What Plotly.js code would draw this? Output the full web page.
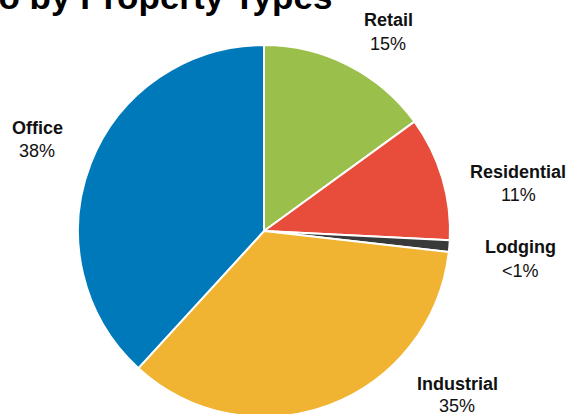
<!DOCTYPE html>
<html><head><meta charset="utf-8">
<script src="https://cdn.plot.ly/plotly-3.0.1.min.js"></script>
<style>html,body{margin:0;padding:0;overflow:hidden;background:#fff;}#chart{width:569px;height:430px;}</style>
</head><body><div id="chart"></div>
<script>
// Data
var categories = ["Retail", "Residential", "Lodging", "Industrial", "Office"];
var shares = [15, 10.8, 1.0, 35, 38.2];
var shareLabels = ["15%", "11%", "<1%", "35%", "38%"];
var colors = ["#9BBF4B", "#E84C3B", "#383A39", "#F0B332", "#0079BB"];
var titleText = "Portfolio by Property Types";

// Label positions (pixels: center x, name y, value y)
var labelPos = [[388, 20, 44], [518, 172, 195], [520, 247, 271], [457, 384, 406], [37, 128, 151]];

var W = 569, H = 430, L = 78, T = 45, S = 372;
function px(x){ return (x - L) / S; }
function py(y){ return (T + S - y) / S; }

var ann = [];
for (var i = 0; i < categories.length; i++) {
  var p = labelPos[i];
  ann.push({xref:'paper', yref:'paper', x:px(p[0]), y:py(p[1]), xanchor:'center', yanchor:'middle',
    text:'<b>' + categories[i] + '</b>', showarrow:false, font:{family:'Liberation Sans, Arial, sans-serif', size:18, color:'#111'}});
  ann.push({xref:'paper', yref:'paper', x:px(p[0]), y:py(p[2]), xanchor:'center', yanchor:'middle',
    text:shareLabels[i], showarrow:false, font:{family:'Liberation Sans, Arial, sans-serif', size:18, color:'#111'}});
}
ann.push({xref:'paper', yref:'paper', x:px(334), y:py(-3), xanchor:'right', yanchor:'middle',
  text:'<b>' + titleText + '</b>', showarrow:false, font:{family:'Liberation Sans, Arial, sans-serif', size:35, color:'#000'}});

var trace = {
  type:'pie', labels:categories, values:shares, sort:false, direction:'clockwise', rotation:0,
  marker:{colors:colors, line:{color:'#fff', width:2}},
  textinfo:'none', hoverinfo:'none', showlegend:false
};
var layout = {
  width:W, height:H, margin:{l:L, r:W - L - S, t:T, b:H - T - S, pad:0},
  paper_bgcolor:'#fff', plot_bgcolor:'#fff', showlegend:false, annotations:ann
};
Plotly.newPlot('chart', [trace], layout, {staticPlot:true, displayModeBar:false});
</script></body></html>
